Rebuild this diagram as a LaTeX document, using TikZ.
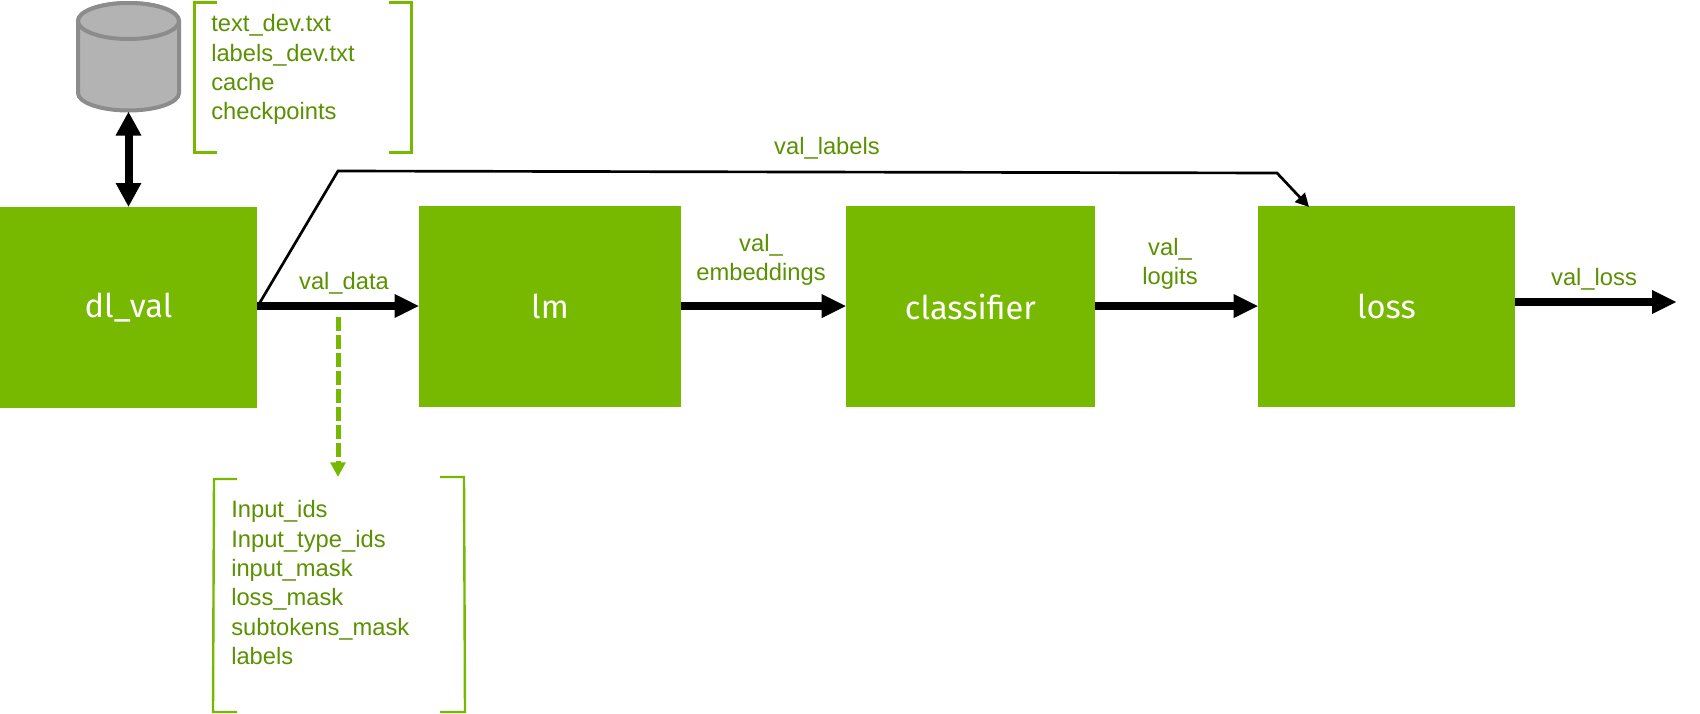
\documentclass[tikz,border=0pt]{standalone}
\usepackage{fontspec}
\setmainfont{Liberation Sans}
\newfontfamily\boxfont{Fira Sans}
\usetikzlibrary{arrows.meta,calc}
\definecolor{nvgreen}{HTML}{76B900}
\definecolor{txtgreen}{HTML}{5A9100}
\definecolor{cylgray}{HTML}{B3B3B3}
\definecolor{cyledge}{HTML}{8C8C8C}
\tikzset{
  x=0.75pt,y=-0.75pt,
  blockbox/.style={fill=nvgreen,draw=none,inner sep=0pt,text=white,font=\boxfont\fontsize{24.5}{29}\selectfont},
  lbl/.style={text=txtgreen,font=\fontsize{17.8}{22}\selectfont,inner sep=0pt},
  lstlbl/.style={lbl,align=left,anchor=north west},
  thick arrow/.style={line width=6pt,-{Triangle[length=18pt,width=18pt,line width=0pt]},black},
  thin arrow/.style={line width=2pt,black,line join=miter},
  bracket/.style={draw=nvgreen,line width=2.8pt,line join=miter},
}
\begin{document}
\begin{tikzpicture}
\useasboundingbox (0,0) rectangle (1700,714);
% blocks
\node[blockbox,minimum width=192.75pt,minimum height=150.75pt] (dl) at (128.5,307.5) {dl\_val};
\node[blockbox,minimum width=196.5pt,minimum height=150.75pt] (lm) at (550,306.5) {lm};
\node[blockbox,minimum width=186.75pt,minimum height=150.75pt] (cl) at (970.5,306.5) {classifier};
\node[blockbox,minimum width=192.75pt,minimum height=150.75pt] (ls) at (1386.5,306.5) {loss};
% cylinder
\draw[draw=cyledge,fill=cylgray,line width=3pt]
  (78,21) -- (78,93) arc[start angle=180,end angle=0,x radius=50.5,y radius=17.5] -- (179,21)
  arc[start angle=0,end angle=-180,x radius=50.5,y radius=18] -- cycle;
\draw[draw=cyledge,fill=cylgray,line width=3pt] (128.5,21) ellipse[x radius=50.5,y radius=18];
\coordinate (cylbot) at (128.5,111.5);
% brackets
\draw[bracket] (217,2.5) -- (194.5,2.5) -- (194.5,152.5) -- (217,152.5);
\draw[bracket] (389,2.5) -- (411.5,2.5) -- (411.5,152.5) -- (389,152.5);
\node[lstlbl] (files) at (211,14.5) {text\_dev.txt\\labels\_dev.txt\\cache\\checkpoints};
\draw[bracket,line width=1.8pt] (237,479) -- (214,479) -- (213,712) -- (237,712);
\draw[bracket,line width=1.8pt] (440,477) -- (464,477) -- (465,712) -- (440,712);
\node[lstlbl] (fields) at (231,500.5) {Input\_ids\\Input\_type\_ids\\input\_mask\\loss\_mask\\subtokens\_mask\\labels};
% connectors
\draw[line width=6pt,{Triangle[length=18pt,width=18pt]}-{Triangle[length=18pt,width=18pt]},black] (cylbot) -- (128.5,207);
\draw[thick arrow] (dl.east |- 0,306) -- (lm.west |- 0,306);
\draw[thick arrow] (lm.east |- 0,306) -- (cl.west |- 0,306);
\draw[thick arrow] (cl.east |- 0,306) -- (ls.west |- 0,306);
\coordinate (lossend) at (1676,302);
\draw[thick arrow] (ls.east |- 0,302) -- (lossend);
\coordinate (k1) at (338,171);
\coordinate (k2) at (1277,173);
\coordinate (start) at (259,304);
\coordinate (ltip) at (1309,207);
\draw[thin arrow,-{Triangle[length=10pt,width=10pt]}] (start) -- (k1) -- (k2) -- (ltip);
\coordinate (dtop) at (338,317);
\coordinate (dtip) at (338,477);
\draw[draw=nvgreen,line width=3.75pt,dash pattern=on 10.3pt off 3.2pt,-{Triangle[length=11pt,width=11pt]}] (dtop) -- (dtip);
% labels
\node[lbl] (vd) at (344,283) {val\_data};
\node[lbl] (vl) at (827,148) {val\_labels};
\node[lbl,align=center] (ve) at (761,260) {val\_\\embeddings};
\node[lbl,align=center] (vg) at (1170,264) {val\_\\logits};
\node[lbl] (vo) at (1594,279) {val\_loss};
\end{tikzpicture}
\end{document}
